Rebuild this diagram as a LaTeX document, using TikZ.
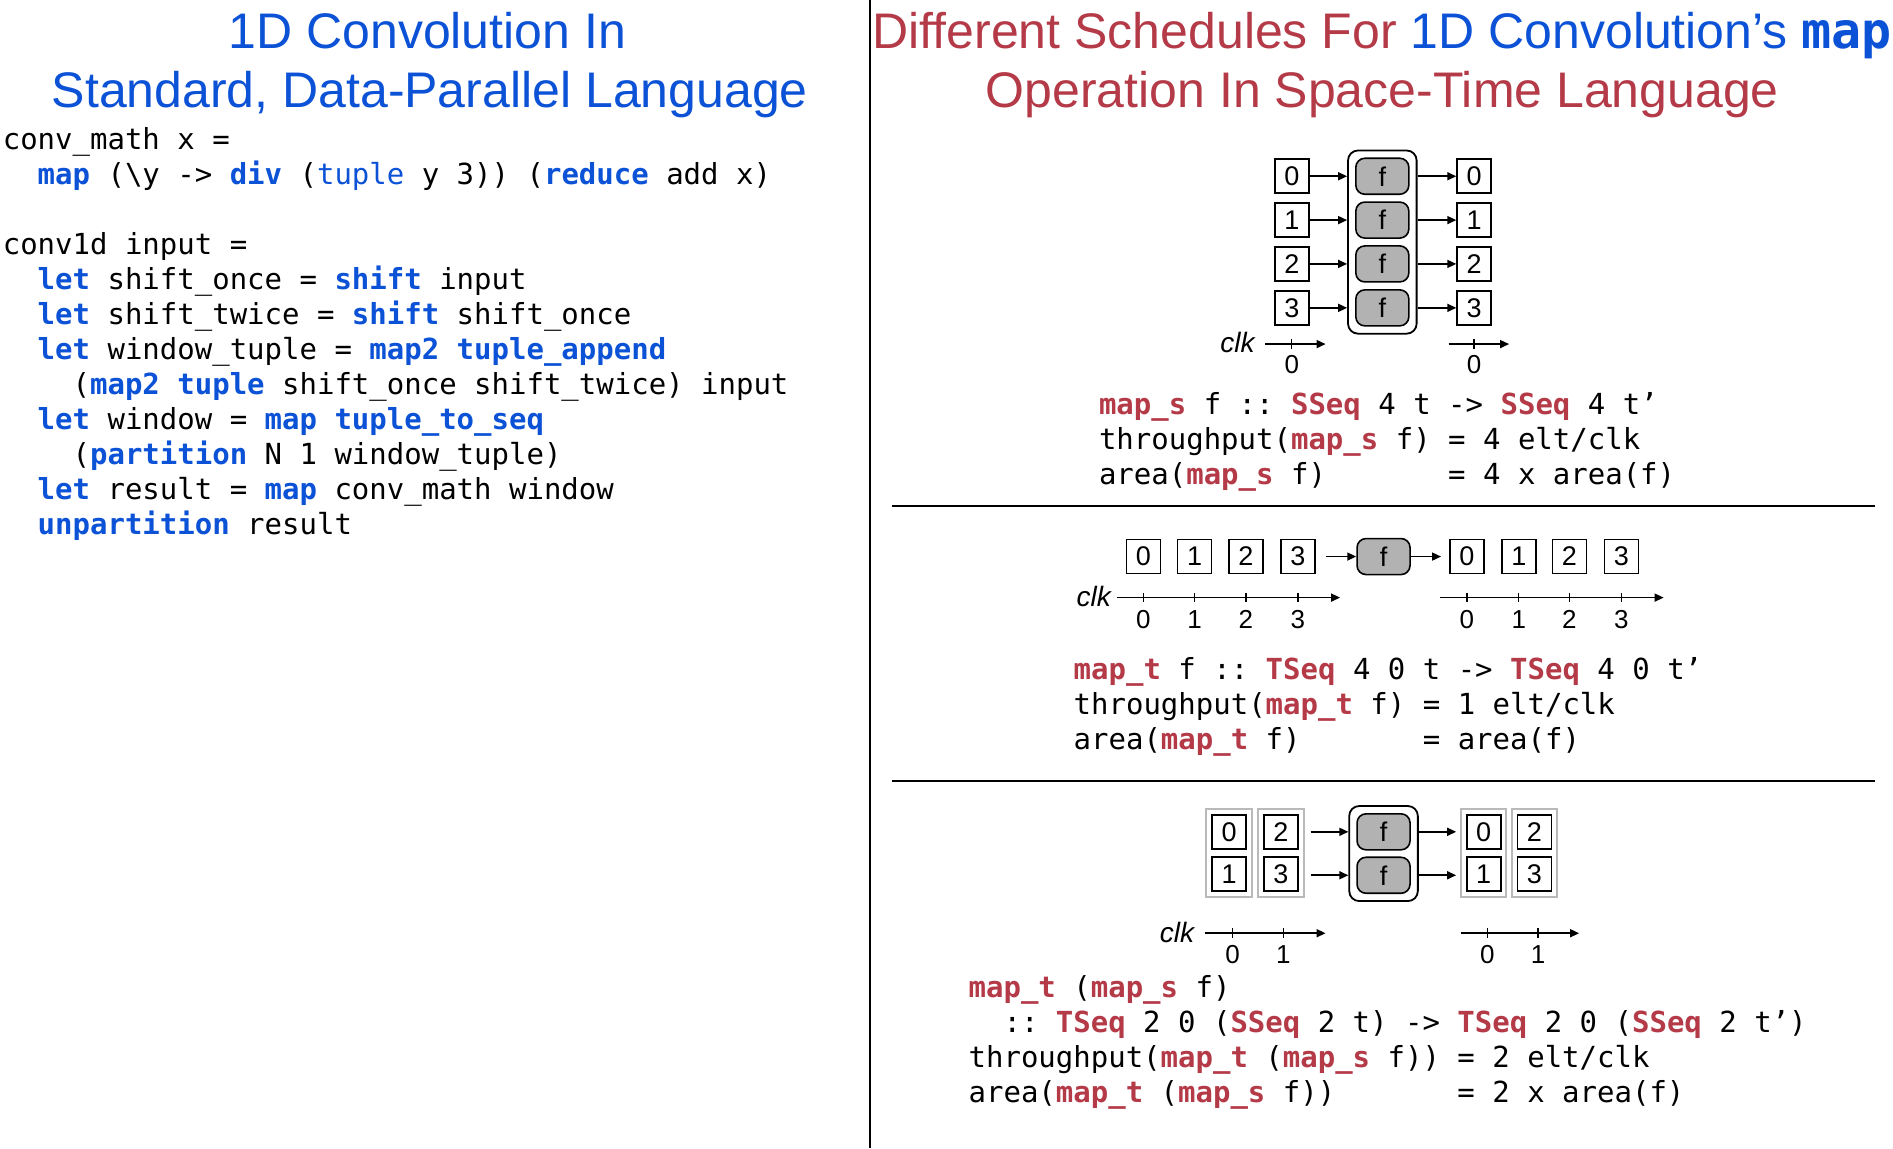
\documentclass[tikz,border=0pt]{standalone}
\usepackage{fontspec}
\setmainfont{Liberation Sans}
\setmonofont{DejaVu Sans Mono}
\usepackage{xcolor}
\usetikzlibrary{arrows.meta, positioning, fit}
\definecolor{kwblue}{RGB}{12,82,214}
\definecolor{kwred}{RGB}{180,58,72}
\newcommand\kwb[1]{\textcolor{kwblue}{\bfseries #1}}
\newcommand\kwt[1]{\textcolor{kwblue}{#1}}
\newcommand\kwr[1]{\textcolor{kwred}{\bfseries #1}}

\begin{document}
\begin{tikzpicture}[x=0.60365pt, y=-0.60365pt,
    every node/.style={inner sep=0pt},
    code/.style={anchor=base west, font=\ttfamily\frenchspacing\fontsize{14.5}{17.5}\selectfont},
    ttl/.style={anchor=base, font=\fontsize{25}{29.6}\selectfont},
    cell/.style={draw, line width=0.8pt, minimum width=17pt, minimum height=17pt,
                 font=\fontsize{13.5}{14}\selectfont},
    fbox/.style={draw, line width=0.8pt, rounded corners=4.5pt, fill=gray!60,
                 minimum width=26.5pt, minimum height=18pt, font=\fontsize{13.5}{14}\selectfont},
    blk/.style={draw, line width=0.9pt, rounded corners=5pt, inner sep=3.5pt},
    grp/.style={draw=gray!55, line width=1pt, inner sep=2.4pt},
    arr/.style={-{Triangle[length=4.5pt,width=4pt]}, line width=0.8pt},
    lbl/.style={font=\fontsize{13}{14}\selectfont},
    clk/.style={font=\itshape\fontsize{14}{16}\selectfont}
]
\useasboundingbox (0,0) rectangle (1568,951);

% titles
\node (ttlL1) [ttl, text=kwblue] at (354,40) {1D Convolution In};
\node (ttlL2) [ttl, text=kwblue] at (356,89) {Standard, Data-Parallel Language};
\node (ttlR1) [ttl] at (1145,40) {\textcolor{kwred}{Different Schedules For}
  \textcolor{kwblue}{1D Convolution’s \texttt{\bfseries map}}};
\node (ttlR2) [ttl, text=kwred] at (1145,89) {Operation In Space-Time Language};

\draw[line width=1pt] (721,0) -- (721,951);
\draw[line width=1pt] (739,419) -- (1553,419);
\draw[line width=1pt] (739,647) -- (1553,647);

% data-parallel code
\foreach \y/\ln in {124/{conv\_math x =},
  153/{~~\kwb{map} (\textbackslash y -> \kwb{div} (\kwt{tuple} y 3)) (\kwb{reduce} add x)},
  211/{conv1d input =},
  240/{~~\kwb{let} shift\_once = \kwb{shift} input},
  269/{~~\kwb{let} shift\_twice = \kwb{shift} shift\_once},
  298/{~~\kwb{let} window\_tuple = \kwb{map2} \kwb{tuple\_append}},
  327/{~~~~(\kwb{map2} \kwb{tuple} shift\_once shift\_twice) input},
  356/{~~\kwb{let} window = \kwb{map} \kwb{tuple\_to\_seq}},
  385/{~~~~(\kwb{partition} N 1 window\_tuple)},
  414/{~~\kwb{let} result = \kwb{map} conv\_math window},
  443/{~~\kwb{unpartition} result}}
  \node (lc\y) [code] at (2,\y) {\ln};

% map_s : all four in one clock
\foreach \i/\y in {0/146,1/182.3,2/218.6,3/255}{
  \node (a\i) [cell] at (1070,\y) {\i};
  \node (f\i) [fbox] at (1145,\y) {f};
  \node (b\i) [cell] at (1221,\y) {\i};
}
\node (blk1) [blk, fit=(f0)(f3)] {};
\foreach \i in {0,...,3}{
  \draw[arr] (a\i) -- (a\i -| blk1.west);
  \draw[arr] (f\i -| blk1.east) -- (b\i);
}
\node (clk1) [clk] at (1025,284) {clk};
\coordinate (ax1a) at (1048,285);
\coordinate (ax1b) at (1098,285);
\coordinate (ax1c) at (1200,285);
\coordinate (ax1d) at (1250,285);
\draw[arr] (ax1a) -- (ax1b);
\draw[arr] (ax1c) -- (ax1d);
\foreach \x in {1070,1221}{
  \draw[line width=0.7pt] (\x,281) -- (\x,289);
  \node (t1\x) [lbl] at (\x,302) {0};
}
\foreach \y/\ln in {343/{\kwr{map\_s} f :: \kwr{SSeq} 4 t -> \kwr{SSeq} 4 t’},
  372/{throughput(\kwr{map\_s} f) = 4 elt/clk},
  401/{area(\kwr{map\_s} f)~~~~~~~= 4 x area(f)}}
  \node (sc\y) [code] at (910,\y) {\ln};

% map_t : one per clock
\foreach \i/\x in {0/947,1/989.5,2/1032,3/1075}
  \node (c\i) [cell] at (\x,461) {\i};
\node (g) [fbox] at (1146,461) {f};
\foreach \i/\x in {0/1215,1/1258,2/1300,3/1343}
  \node (d\i) [cell] at (\x,461) {\i};
\draw[arr, shorten <=5pt] (c3) -- (g);
\draw[arr, shorten >=4pt] (g) -- (d0);
\node (clk2) [clk] at (906,494) {clk};
\coordinate (ax2a) at (925,495);
\coordinate (ax2b) at (1110,495);
\coordinate (ax2c) at (1193,495);
\coordinate (ax2d) at (1378,495);
\draw[arr] (ax2a) -- (ax2b);
\draw[arr] (ax2c) -- (ax2d);
\foreach \i/\x in {0/947,1/989.5,2/1032,3/1075,0/1215,1/1258,2/1300,3/1343}{
  \draw[line width=0.7pt] (\x,491) -- (\x,499);
  \node (t2\x) [lbl] at (\x,513) {\i};
}
\foreach \y/\ln in {563/{\kwr{map\_t} f :: \kwr{TSeq} 4 0 t -> \kwr{TSeq} 4 0 t’},
  592/{throughput(\kwr{map\_t} f) = 1 elt/clk},
  621/{area(\kwr{map\_t} f)~~~~~~~= area(f)}}
  \node (tc\y) [code] at (889,\y) {\ln};

% map_t (map_s f) : two per clock
\node (p0) [cell] at (1018,689) {0};
\node (p1) [cell] at (1018,724) {1};
\node (p2) [cell] at (1061,689) {2};
\node (p3) [cell] at (1061,724) {3};
\node (pg1) [grp, fit=(p0)(p1)] {};
\node (pg2) [grp, fit=(p2)(p3)] {};
\node (h0) [fbox] at (1146,689) {f};
\node (h1) [fbox] at (1146,725) {f};
\node (blk3) [blk, fit=(h0)(h1)] {};
\node (q0) [cell] at (1229,689) {0};
\node (q1) [cell] at (1229,724) {1};
\node (q2) [cell] at (1271,689) {2};
\node (q3) [cell] at (1271,724) {3};
\node (qg1) [grp, fit=(q0)(q1)] {};
\node (qg2) [grp, fit=(q2)(q3)] {};
\foreach \i in {0,1}{
  \draw[arr, shorten <=3pt] (pg2.east |- h\i) -- (h\i -| blk3.west);
  \draw[arr, shorten >=2pt] (h\i -| blk3.east) -- (qg1.west |- h\i);
}
\node (clk3) [clk] at (975,772) {clk};
\coordinate (ax3a) at (998,773);
\coordinate (ax3b) at (1098,773);
\coordinate (ax3c) at (1210,773);
\coordinate (ax3d) at (1308,773);
\draw[arr] (ax3a) -- (ax3b);
\draw[arr] (ax3c) -- (ax3d);
\foreach \i/\x in {0/1021,1/1063,0/1232,1/1274}{
  \draw[line width=0.7pt] (\x,769) -- (\x,777);
  \node (t3\x) [lbl] at (\x,791) {\i};
}
\foreach \y/\ln in {826/{\kwr{map\_t} (\kwr{map\_s} f)},
  855/{~~:: \kwr{TSeq} 2 0 (\kwr{SSeq} 2 t) -> \kwr{TSeq} 2 0 (\kwr{SSeq} 2 t’)},
  884/{throughput(\kwr{map\_t} (\kwr{map\_s} f)) = 2 elt/clk},
  913/{area(\kwr{map\_t} (\kwr{map\_s} f))~~~~~~~= 2 x area(f)}}
  \node (mc\y) [code] at (802,\y) {\ln};

\end{tikzpicture}
\end{document}
